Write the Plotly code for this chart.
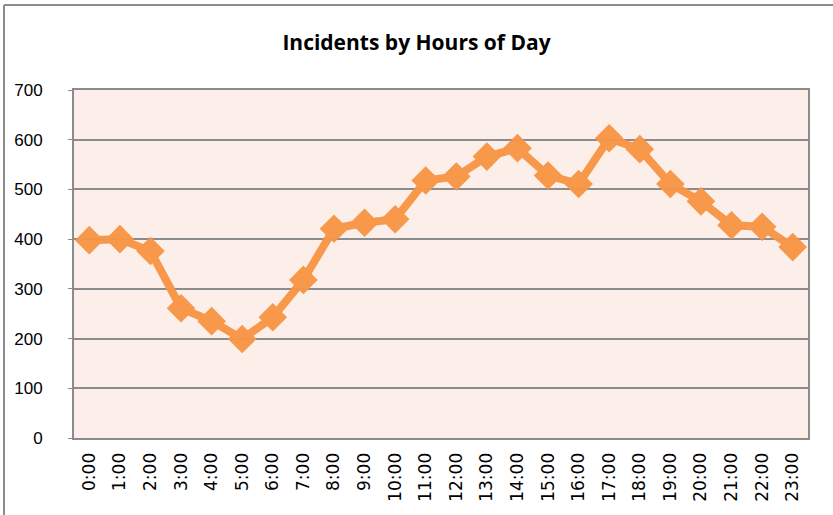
import plotly.graph_objects as go

hours = [f"{h}:00" for h in range(24)]
incidents = [398, 400, 376, 261, 235, 199, 243, 318, 421, 433, 440, 518,
             526, 566, 583, 528, 511, 603, 581, 511, 476, 428, 425, 384]
y_ticks = [0, 100, 200, 300, 400, 500, 600, 700]

fig = go.Figure()
fig.add_trace(go.Scatter(
    x=hours, y=incidents, mode="lines+markers",
    line=dict(color="#F79646", width=8),
    marker=dict(symbol="diamond", size=22, color="#F79646"),
    opacity=0.97,
))

L, R, T, B = 74, 25, 90, 77
W, H = 833, 515
pw, ph = W - L - R, H - T - B

fig.update_layout(
    width=W, height=H,
    margin=dict(l=L, r=R, t=T, b=B),
    paper_bgcolor="white",
    plot_bgcolor="#FCEEE9",
    showlegend=False,
    title=dict(text="<b>Incidents by Hours of Day</b>", x=0.5, xanchor="center",
               y=1 - 43 / H, yanchor="middle",
               font=dict(family="Open Sans, Liberation Sans, sans-serif", size=21, color="black")),
    font=dict(family="Liberation Sans, Arial, sans-serif", color="black"),
    xaxis=dict(
        type="category", tickangle=-90, showgrid=False,
        tickfont=dict(family="DejaVu Sans, sans-serif", size=17),
        showline=True, linecolor="#8C8C8C", linewidth=2, mirror=True,
        ticks="outside", ticklen=6, tickcolor="rgba(0,0,0,0)",
        range=[-0.5, 23.5], automargin=False,
    ),
    yaxis=dict(
        range=[0, 700], tickvals=y_ticks, showgrid=True, gridcolor="#8C8C8C", gridwidth=1.5,
        tickfont=dict(family="Liberation Sans, Arial, sans-serif", size=17),
        showline=True, linecolor="#8C8C8C", linewidth=2, mirror=True,
        ticks="outside", ticklen=4, tickcolor="#8C8C8C", zeroline=False, automargin=False,
        ticklabelstandoff=22,
    ),
    shapes=[
        dict(type="line", xref="paper", yref="paper",
             x0=(4 - L) / pw, x1=(W - L) / pw, y0=(H - B - 5) / ph, y1=(H - B - 5) / ph,
             line=dict(color="#8C8C8C", width=2)),
        dict(type="line", xref="paper", yref="paper",
             x0=(4 - L) / pw, x1=(4 - L) / pw, y0=(H - B - 5) / ph, y1=-B / ph,
             line=dict(color="#8C8C8C", width=2)),
    ],
)

fig.write_html("out.html", config={"displayModeBar": False},
               post_script="document.body.style.margin='0';document.body.style.padding='0';")
